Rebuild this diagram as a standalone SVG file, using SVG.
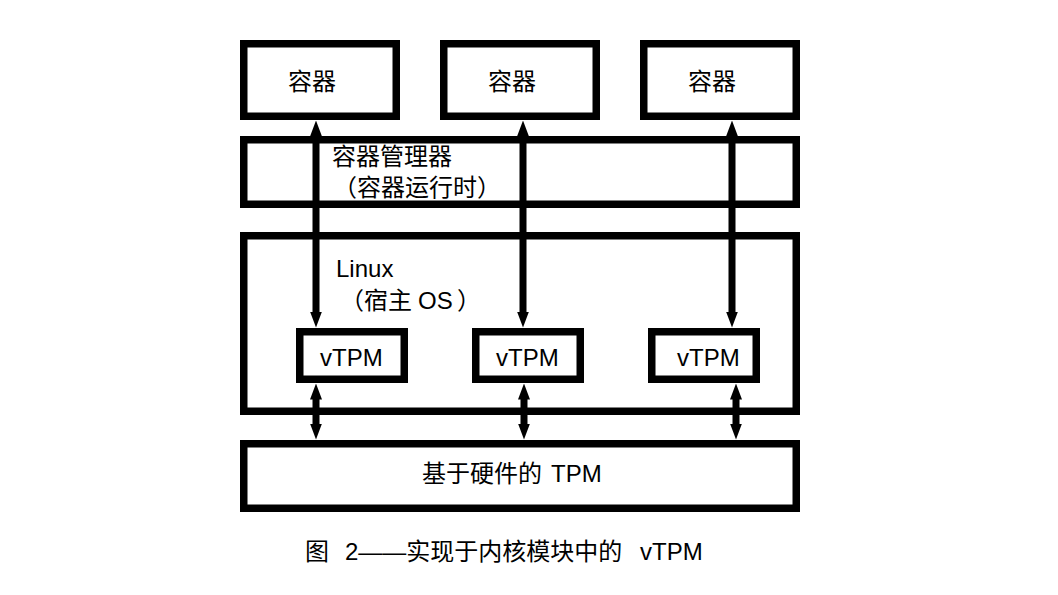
<svg xmlns="http://www.w3.org/2000/svg" width="1058" height="595" viewBox="0 0 1058 595">
<style>
.box{fill:none;stroke:#000;stroke-width:7.5}
.t{font-family:"Liberation Sans","Noto Sans CJK SC",sans-serif;font-size:24px;fill:#000}
.c{fill:none;stroke:#000;stroke-width:7}
</style>
<defs>
<marker id="ah" markerUnits="userSpaceOnUse" markerWidth="16" markerHeight="12" viewBox="0 0 16 12" refX="0.5" refY="6" orient="auto-start-reverse">
<path d="M0,0 L16,6 L0,12 z" fill="#000"/>
</marker>
</defs>
<rect width="1058" height="595" fill="#fff"/>
<g id="container1"><rect class="box" x="243.75" y="43.75" width="152.5" height="72.5"/><text class="t" x="288" y="90">容器</text></g>
<g id="container2"><rect class="box" x="443.75" y="43.75" width="152.5" height="72.5"/><text class="t" x="488" y="90">容器</text></g>
<g id="container3"><rect class="box" x="643.75" y="43.75" width="152.5" height="72.5"/><text class="t" x="688" y="90">容器</text></g>
<g id="manager"><rect class="box" x="243.75" y="139.75" width="552.5" height="64.5"/>
<text class="t" x="332" y="165">容器管理器</text>
<text class="t" x="333" y="196">（容器运行时）</text></g>
<g id="linux"><rect class="box" x="243.75" y="235.75" width="552.5" height="175.5"/>
<text class="t" x="336" y="277">Linux</text>
<text class="t" y="309"><tspan x="340">（宿主</tspan><tspan x="418">OS</tspan><tspan x="457">）</tspan></text></g>
<g id="vtpm1"><rect class="box" x="299.75" y="331.75" width="104.5" height="47.5"/><text class="t" x="320" y="366">vTPM</text></g>
<g id="vtpm2"><rect class="box" x="475.75" y="331.75" width="104.5" height="47.5"/><text class="t" x="496" y="366">vTPM</text></g>
<g id="vtpm3"><rect class="box" x="651.75" y="331.75" width="104.5" height="47.5"/><text class="t" x="677" y="366">vTPM</text></g>
<g id="hwtpm"><rect class="box" x="243.75" y="443.75" width="552.5" height="64.5"/>
<text class="t" y="482"><tspan x="422">基于硬件的</tspan><tspan x="551">TPM</tspan></text></g>
<g id="connectors">
<path class="c" d="M316,136 V312" marker-start="url(#ah)" marker-end="url(#ah)"/>
<path class="c" d="M523,136 V312" marker-start="url(#ah)" marker-end="url(#ah)"/>
<path class="c" d="M732,136 V312" marker-start="url(#ah)" marker-end="url(#ah)"/>
<path class="c" d="M316,399 V424" marker-start="url(#ah)" marker-end="url(#ah)"/>
<path class="c" d="M524,399 V424" marker-start="url(#ah)" marker-end="url(#ah)"/>
<path class="c" d="M736,399 V424" marker-start="url(#ah)" marker-end="url(#ah)"/>
</g>
<g id="caption"><text class="t" y="560"><tspan x="305">图</tspan><tspan x="345">2——实现于内核模块中的</tspan><tspan x="640">vTPM</tspan></text></g>
</svg>
